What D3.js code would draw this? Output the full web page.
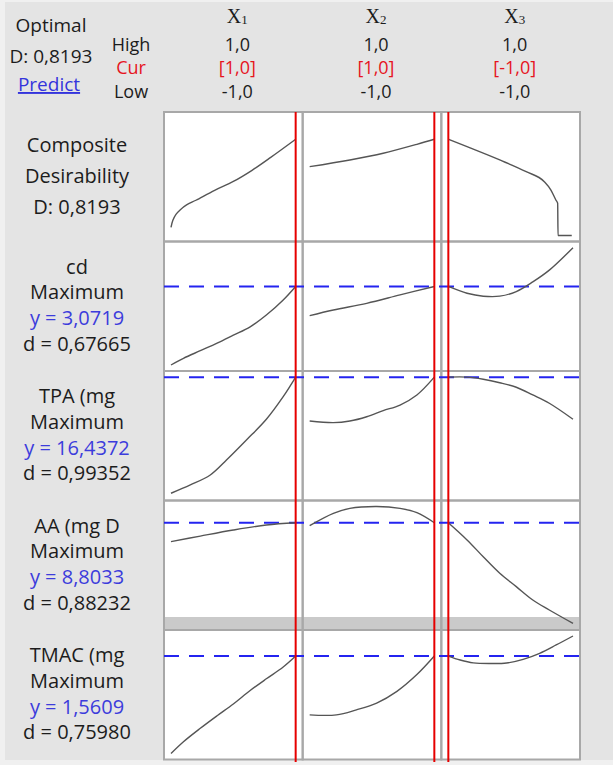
<!DOCTYPE html>
<html>
<head>
<meta charset="utf-8">
<script src="https://cdn.jsdelivr.net/npm/d3@7"></script>
<style>
  body { margin: 0; background: #f0f0f0; }
  svg text { font-family: "Open Sans", "Noto Sans", sans-serif; }
</style>
</head>
<body>
<div id="chart"></div>
<script>
// Factor settings (header)
const factorNames = ["X", "X", "X"];
const factorSubs = ["1", "2", "3"];
const highLabels = ["1,0", "1,0", "1,0"];
const curLabels = ["[1,0]", "[1,0]", "[-1,0]"];
const lowLabels = ["-1,0", "-1,0", "-1,0"];
const curSettings = [1, 1, -1];

// Responses (rows 2..5)
const responseNames = ["cd", "TPA (mg", "AA (mg D", "TMAC (mg"];
const goals = ["Maximum", "Maximum", "Maximum", "Maximum"];
const predictedLabels = ["y = 3,0719", "y = 16,4372", "y = 8,8033", "y = 1,5609"];
const desirLabels = ["d = 0,67665", "d = 0,99352", "d = 0,88232", "d = 0,75980"];

// Row 0 is composite desirability
const yCurrent = [0.8193, 3.0719, 16.4372, 8.8033, 1.5609];
const yDomains = [[0, 1], [1.2, 4.0], [5.0, 16.45], [2.3, 9.85], [0.4, 1.8]];

// Predicted curves, [x, y] for X1, X2, X3
const compositeCurves = [
  [[-1, 0.07], [-0.97, 0.13], [-0.92, 0.18], [-0.85, 0.22], [-0.75, 0.26], [-0.6, 0.30], [-0.3, 0.385], [0, 0.46], [0.3, 0.555], [0.6, 0.665], [1, 0.8193]],
  [[-1, 0.586], [-0.355, 0.643], [0.18, 0.70], [0.72, 0.776], [1, 0.8193]],
  [[-1, 0.8193], [-0.70, 0.756], [-0.175, 0.643], [0.249, 0.543], [0.54, 0.458], [0.646, 0.387], [0.725, 0.302], [0.754, 0.274], [0.76, 0], [0.98, 0]]
];
const cdCurves = [
  [[-1, 1.20], [-0.8, 1.36], [-0.53, 1.54], [-0.26, 1.72], [0, 1.91], [0.27, 2.11], [0.53, 2.39], [0.8, 2.75], [1, 3.0719]],
  [[-1, 2.375], [-0.62, 2.51], [-0.085, 2.67], [0.45, 2.87], [1, 3.0719]],
  [[-1, 3.0719], [-0.70, 2.91], [-0.44, 2.84], [-0.175, 2.84], [0.09, 2.95], [0.355, 3.18], [0.62, 3.46], [1, 3.995]]
];
const tpaCurves = [
  [[-1, 5.12], [-0.69, 5.93], [-0.37, 6.90], [-0.11, 8.36], [0.21, 10.31], [0.53, 12.33], [0.8, 14.53], [1, 16.4372]],
  [[-1, 12.16], [-0.62, 12.00], [-0.355, 12.16], [-0.085, 12.58], [0.18, 13.17], [0.45, 13.72], [0.72, 14.70], [1, 16.4372]],
  [[-1, 16.4372], [-0.70, 16.44], [-0.44, 16.23], [-0.175, 15.89], [0.09, 15.45], [0.355, 14.70], [0.62, 13.89], [1, 12.33]]
];
const aaCurves = [
  [[-1, 7.59], [-0.53, 7.95], [0, 8.34], [0.53, 8.66], [1, 8.8033]],
  [[-1, 8.62], [-0.62, 9.41], [-0.355, 9.73], [0.075, 9.85], [0.45, 9.73], [0.72, 9.45], [1, 8.8033]],
  [[-1, 8.8033], [-0.70, 7.70], [-0.44, 6.62], [-0.175, 5.56], [0.09, 4.70], [0.355, 3.84], [0.62, 3.20], [1, 2.34]]
];
const tmacCurves = [
  [[-1, 0.40], [-0.8, 0.54], [-0.53, 0.70], [-0.26, 0.85], [0, 0.99], [0.27, 1.15], [0.53, 1.29], [0.8, 1.43], [1, 1.5609]],
  [[-1, 0.86], [-0.57, 0.86], [-0.25, 0.92], [0.075, 1.0], [0.40, 1.14], [0.72, 1.34], [1, 1.5609]],
  [[-1, 1.5609], [-0.81, 1.514], [-0.60, 1.48], [-0.33, 1.472], [-0.065, 1.478], [0.2, 1.522], [0.465, 1.594], [0.73, 1.693], [1, 1.80]]
];
const rowCurves = [compositeCurves, cdCurves, tpaCurves, aaCurves, tmacCurves];

// Layout
const width = 613, height = 765;
const plotLeft = 164, plotRight = 580, plotTop = 112, plotBottom = 759.5;
const textColor = "#1c1c1c";
const redColor = "#e6141e";
const blueText = "#3c3cdc";

const svg = d3.select("#chart")
  .append("svg")
    .attr("width", width)
    .attr("height", height);

// background
svg.append("rect").attr("width", width).attr("height", height).attr("fill", "#f0f0f0");
svg.append("rect")
  .attr("x", 5).attr("y", 2)
  .attr("width", width - 5).attr("height", 758)
  .attr("fill", "#e4e4e4");

const col = d3.scaleBand().domain(d3.range(3)).range([plotLeft, plotRight]);
const row = d3.scaleBand().domain(d3.range(5)).range([plotTop, plotBottom]);

const xs = d3.range(3).map(c => d3.scaleLinear().domain([-1, 1])
  .range([col(c) + 7, col(c) + col.bandwidth() - 7]));
const ys = d3.range(5).map(r => d3.scaleLinear().domain(yDomains[r])
  .range([row(r) + row.bandwidth() - 6, row(r) + 6]));

const cells = d3.cross(d3.range(5), d3.range(3));

// white panels
svg.append("g")
  .selectAll("rect")
  .data(cells)
  .join("rect")
    .attr("x", d => col(d[1]))
    .attr("y", d => row(d[0]))
    .attr("width", col.bandwidth())
    .attr("height", row.bandwidth())
    .attr("fill", "#fff");

// grey band at the bottom of the AA row
svg.append("rect")
  .attr("x", plotLeft)
  .attr("y", row(3) + row.bandwidth() - 13)
  .attr("width", plotRight - plotLeft)
  .attr("height", 13)
  .attr("fill", "#cacaca");

// panel borders
svg.append("g")
  .selectAll("rect")
  .data(cells)
  .join("rect")
    .attr("x", d => col(d[1]))
    .attr("y", d => row(d[0]))
    .attr("width", col.bandwidth())
    .attr("height", row.bandwidth())
    .attr("fill", "none")
    .attr("stroke", "#a8a8a8")
    .attr("stroke-width", 2);

// blue dashed lines at current response value
svg.append("g")
  .selectAll("line")
  .data(d3.range(1, 5))
  .join("line")
    .attr("x1", plotLeft)
    .attr("x2", plotRight)
    .attr("y1", r => ys[r](yCurrent[r]))
    .attr("y2", r => ys[r](yCurrent[r]))
    .attr("stroke", "#2424f0")
    .attr("stroke-width", 2)
    .attr("stroke-dasharray", "15,10");

// response curves (composite row keeps the sharp drop)
svg.append("g")
  .selectAll("path")
  .data(cells)
  .join("path")
    .attr("fill", "none")
    .attr("stroke", "#555")
    .attr("stroke-width", 1.4)
    .attr("d", ([r, c]) => d3.line()
      .x(d => xs[c](d[0]))
      .y(d => ys[r](d[1]))
      .curve(r === 0 && c === 2 ? d3.curveMonotoneX : d3.curveCatmullRom.alpha(0.5))(rowCurves[r][c]));

// red lines at current settings
svg.append("g")
  .selectAll("line")
  .data(d3.range(3))
  .join("line")
    .attr("x1", c => xs[c](curSettings[c]))
    .attr("x2", c => xs[c](curSettings[c]))
    .attr("y1", plotTop)
    .attr("y2", plotBottom + 2.5)
    .attr("stroke", "#e60000")
    .attr("stroke-width", 2);

// header: Optimal block
const head = svg.append("g").style("font-size", "19px").attr("text-anchor", "middle");
head.append("text").attr("x", 51).attr("y", 32).attr("fill", textColor).text("Optimal");
head.append("text").attr("x", 51).attr("y", 63).attr("fill", textColor).text("D: 0,8193");
head.append("text").attr("x", 49).attr("y", 91).attr("fill", "#3434dc")
  .style("text-decoration", "underline").text("Predict");

// High / Cur / Low rows
const settings = svg.append("g").style("font-size", "18px").attr("text-anchor", "middle");
settings.append("text").attr("x", 131).attr("y", 51).attr("fill", textColor).text("High");
settings.append("text").attr("x", 131).attr("y", 74).attr("fill", redColor).text("Cur");
settings.append("text").attr("x", 131).attr("y", 97.5).attr("fill", textColor).text("Low");

const colCenter = c => col(c) + col.bandwidth() / 2 + 4;

const fHead = head.selectAll(".fname")
  .data(d3.range(3))
  .join("text")
    .attr("class", "fname")
    .attr("x", colCenter)
    .attr("y", 23)
    .attr("fill", textColor)
    .style("font-family", "'Liberation Serif', 'DejaVu Serif', serif")
    .style("font-size", "20px");
fHead.append("tspan").text(c => factorNames[c]);
fHead.append("tspan").attr("dy", 1).style("font-size", "13px").text(c => factorSubs[c]);

settings.selectAll(".hi").data(d3.range(3)).join("text").attr("class", "hi")
  .attr("x", colCenter).attr("y", 51).attr("fill", textColor).text(c => highLabels[c]);
settings.selectAll(".cur").data(d3.range(3)).join("text").attr("class", "cur")
  .attr("x", colCenter).attr("y", 74).attr("fill", redColor).text(c => curLabels[c]);
settings.selectAll(".lo").data(d3.range(3)).join("text").attr("class", "lo")
  .attr("x", colCenter).attr("y", 97.5).attr("fill", textColor).text(c => lowLabels[c]);

// left labels
const left = svg.append("g").style("font-size", "20px").attr("text-anchor", "middle");
["Composite", "Desirability", "D: 0,8193"].forEach((t, i) => {
  left.append("text")
    .attr("x", 77)
    .attr("y", row(0) + 39.7 + i * 31)
    .attr("fill", textColor)
    .text(t);
});
responseNames.forEach((name, k) => {
  const r = k + 1;
  const lines = [
    [name, textColor],
    [goals[k], textColor],
    [predictedLabels[k], blueText],
    [desirLabels[k], textColor]
  ];
  lines.forEach(([t, color], i) => {
    left.append("text")
      .attr("x", 77)
      .attr("y", row(r) + 32 + i * 25.8)
      .attr("fill", color)
      .text(t);
  });
});
</script>
</body>
</html>
